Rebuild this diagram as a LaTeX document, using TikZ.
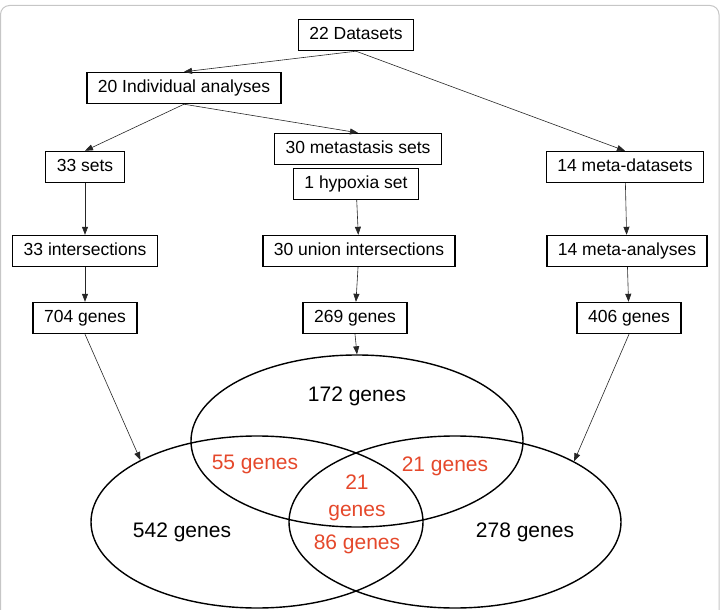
\documentclass[tikz,border=0pt]{standalone}
\usepackage{fontspec}
\setmainfont{Liberation Sans}
\usetikzlibrary{arrows.meta,positioning,shapes.geometric}
\definecolor{vennred}{HTML}{E5482B}

\begin{document}
\begin{tikzpicture}[x=1pt,y=-1pt,
  box/.style={draw,line width=1.4pt,inner xsep=11pt,inner ysep=0pt,minimum height=31pt,text height=12.5pt,text depth=3.5pt,font=\fontsize{17.5}{19}\selectfont},
  arr/.style={-{Triangle[length=8pt,width=6pt]},line width=0.6pt,draw=black!85},
  venn/.style={ellipse,draw,line width=1.4pt,inner sep=0pt,minimum width=332pt,minimum height=172pt},
  lab/.style={font=\fontsize{21}{27}\selectfont},
  ovl/.style={lab,text=vennred}]
\useasboundingbox (0,0) rectangle (721,610);
\draw[gray!45,line width=1pt,rounded corners=9pt] (0.5,620) -- (0.5,5.5) -- (719,5.5) -- (719,620);
% flow boxes
\node[box] (ds) at (356,35) {22 Datasets};
\node[box] (ind) at (184,88) {20 Individual analyses};
\node[box] (sets) at (85,167) {33 sets};
\node[box] (meta) at (358,149) {30 metastasis sets};
\node[box] (hyp) at (356,184) {1 hypoxia set};
\node[box] (mds) at (625,167) {14 meta-datasets};
\node[box] (isec) at (85,251) {33 intersections};
\node[box] (uni) at (359,251) {30 union intersections};
\node[box] (mana) at (627,251) {14 meta-analyses};
\node[box] (g704) at (85,318) {704 genes};
\node[box] (g269) at (355,318) {269 genes};
\node[box] (g406) at (629,318) {406 genes};
% venn diagram
\node[venn] (vT) at (357,441) {};
\node[venn] (vL) at (257,522) {};
\node[venn] (vR) at (455,522) {};
\node[lab] (nT) at (357,396) {172 genes};
\node[lab] (nL) at (182,532) {542 genes};
\node[lab] (nR) at (525,532) {278 genes};
\node[ovl] (nTL) at (255,464) {55 genes};
\node[ovl] (nTR) at (445,466) {21 genes};
\node[ovl,align=center] (nAll) at (357,498) {21\\genes};
\node[ovl] (nLR) at (357,544) {86 genes};
% arrows
\draw[arr] (ds.south) -- (ind.north);
\draw[arr] (ds.south) -- (mds.north);
\draw[arr] (ind.south) -- (sets.north);
\draw[arr] (ind.south) -- (meta.north);
\draw[arr] (sets) -- (isec);
\draw[arr] (hyp) -- (uni);
\draw[arr] (mds) -- (mana);
\draw[arr] (isec) -- (g704);
\draw[arr] (uni) -- (g269);
\draw[arr] (mana) -- (g406);
\draw[arr] (g704.south) -- (vL.152.5);
\draw[arr] (g269.south) -- (vT.north);
\draw[arr] (g406.south) -- (vR.27.5);
\end{tikzpicture}
\end{document}
